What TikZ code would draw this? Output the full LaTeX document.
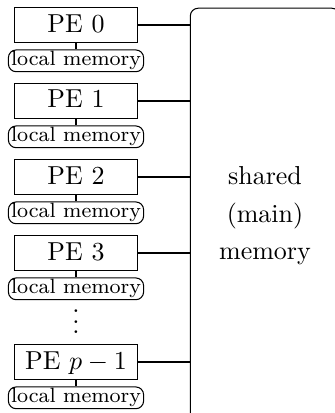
\documentclass[tikz,border=0pt]{standalone}
\begin{document}
\begin{tikzpicture}[x=0.385pt,y=-0.385pt,
  pebox/.style={draw, minimum width=47.7pt, minimum height=13.8pt, inner sep=0pt,
    text height=1.5ex, text depth=0.25ex},
  localmem/.style={draw, rounded corners=3pt, font=\footnotesize, inner xsep=1pt, inner ysep=0.6pt,
    anchor=north},
  link/.style={draw}]
\useasboundingbox (0,0) rectangle (335,413);
\begin{scope}
\clip (0,0) rectangle (335,413);
\node[draw, rounded corners=3pt, minimum width=57.5pt, minimum height=160pt, align=center,
  execute at begin node={\baselineskip=14.4pt}] (shared) at (265,216)
  {shared\\(main)\\memory};
\end{scope}
\foreach \n/\y/\t in {0/25/{PE 0},1/101/{PE 1},2/177/{PE 2},3/253/{PE 3},4/362/{PE $p-1$}}{
  \node[pebox] (pe\n) at (76,\y) {\t};
  \node[localmem] (lm\n) at ([yshift=-2.3pt]pe\n.south) {local memory};
  \draw (pe\n.south) -- (lm\n.north);
  \draw (pe\n.east) -- (pe\n.east -| shared.west);
}
\node[inner sep=0pt] (dots) at (76,322)
  {\vbox{\baselineskip=4pt\lineskiplimit=0pt\hbox{.}\hbox{.}\hbox{.}}};
\end{tikzpicture}
\end{document}
